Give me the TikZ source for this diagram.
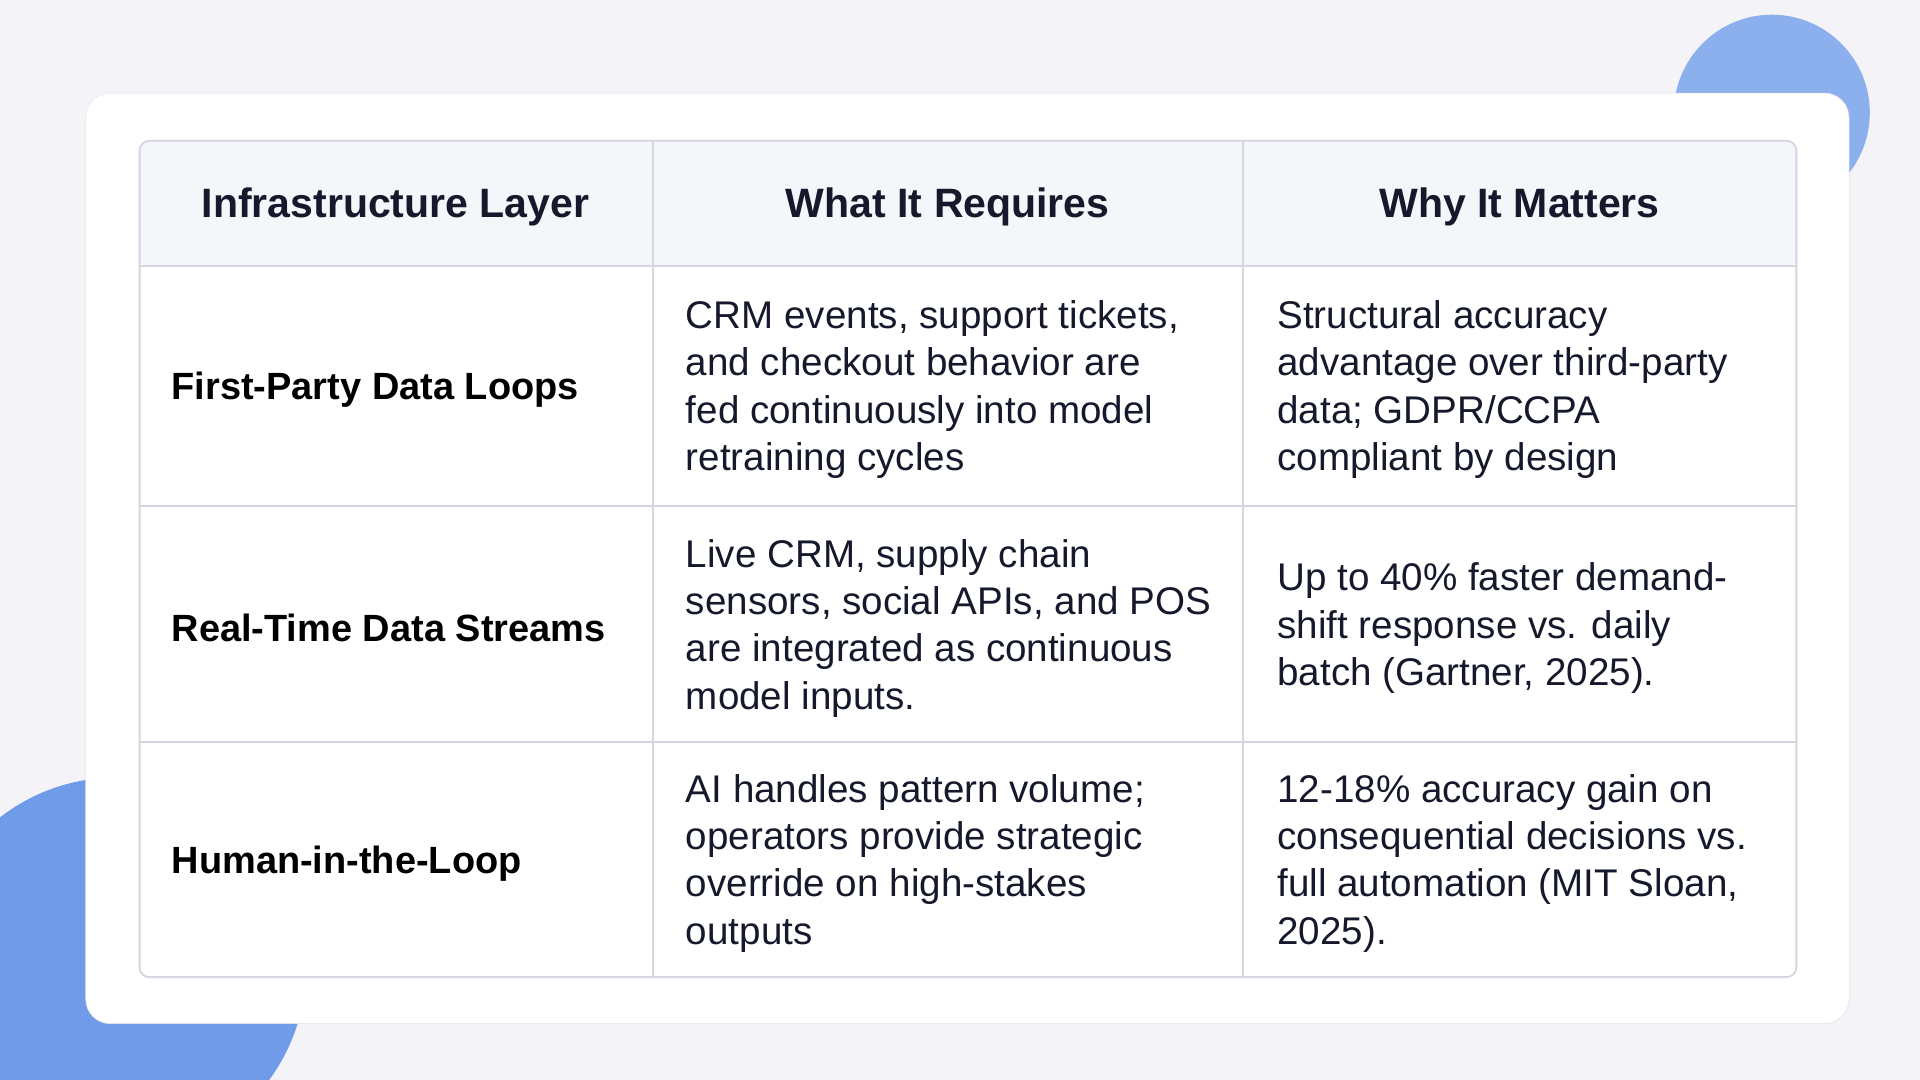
\documentclass[tikz,border=0pt]{standalone}
\usepackage{fontspec}
\setmainfont{Liberation Sans}
\usetikzlibrary{positioning}
\definecolor{pagebg}{HTML}{F4F4F8}
\definecolor{gridline}{HTML}{D4D6E0}
\definecolor{headbg}{HTML}{F5F6FA}
\definecolor{blob}{HTML}{6F9BE8}
\definecolor{inktext}{HTML}{15192B}
\tikzset{
  cell/.style={anchor=west, align=left, text=inktext, font=\fontsize{31.5}{38.7}\selectfont, inner sep=0pt},
  headcell/.style={anchor=center, text=inktext, font=\fontsize{33.5}{38}\selectfont\bfseries, inner sep=0pt},
  rowhead/.style={anchor=west, text=black, font=\fontsize{31}{36}\selectfont\bfseries, inner sep=0pt}
}
\begin{document}
\begin{tikzpicture}[x=1pt,y=-1pt]
  \fill[pagebg] (0,0) rectangle (1568,882);
  \useasboundingbox (0,0) rectangle (1568,882);
  % blobs behind the card
  \fill[blob!80] (1447,92) circle (80);
  \fill[blob] (95,790) circle (155);
  % card
  \fill[white, draw=gridline!70, rounded corners=20] (70,76) rectangle (1510,836);
  % table
  \fill[headbg, rounded corners=8] (114,115) rectangle (1467,217);
  \fill[headbg] (114,160) rectangle (1467,217);
  \draw[gridline, line width=1.5pt, rounded corners=8] (114,115) rectangle (1467,798);
  \foreach \yy in {217,413,606} \draw[gridline, line width=1.5pt] (114,\yy) -- (1467,\yy);
  \foreach \xx in {533,1015} \draw[gridline, line width=1.5pt] (\xx,115) -- (\xx,798);
  % header
  \node[headcell] (h1) at (323,169) {Infrastructure Layer};
  \node[headcell] (h2) at (774,169) {What It Requires};
  \node[headcell] (h3) at (1241,169) {Why It Matters};
  % rows
  \node[rowhead] (r1) at (140,318) {First-Party Data Loops};
  \node[cell] (r1b) at (560,318) {CRM events, support tickets,\\and checkout behavior are\\fed continuously into model\\retraining cycles};
  \node[cell] (r1c) at (1043,318) {Structural accuracy\\advantage over third-party\\data; GDPR/CCPA\\compliant by design};
  \node[rowhead] (r2) at (140,513) {Real-Time Data Streams};
  \node[cell] (r2b) at (560,513) {Live CRM, supply chain\\sensors, social APIs, and POS\\are integrated as continuous\\model inputs.};
  \node[cell] (r2c) at (1043,513) {Up to 40\% faster demand-\\shift response vs. daily\\batch (Gartner, 2025).};
  \node[rowhead] (r3) at (140,705) {Human-in-the-Loop};
  \node[cell] (r3b) at (560,705) {AI handles pattern volume;\\operators provide strategic\\override on high-stakes\\outputs};
  \node[cell] (r3c) at (1043,705) {12-18\% accuracy gain on\\consequential decisions vs.\\full automation (MIT Sloan,\\2025).};
\end{tikzpicture}
\end{document}
